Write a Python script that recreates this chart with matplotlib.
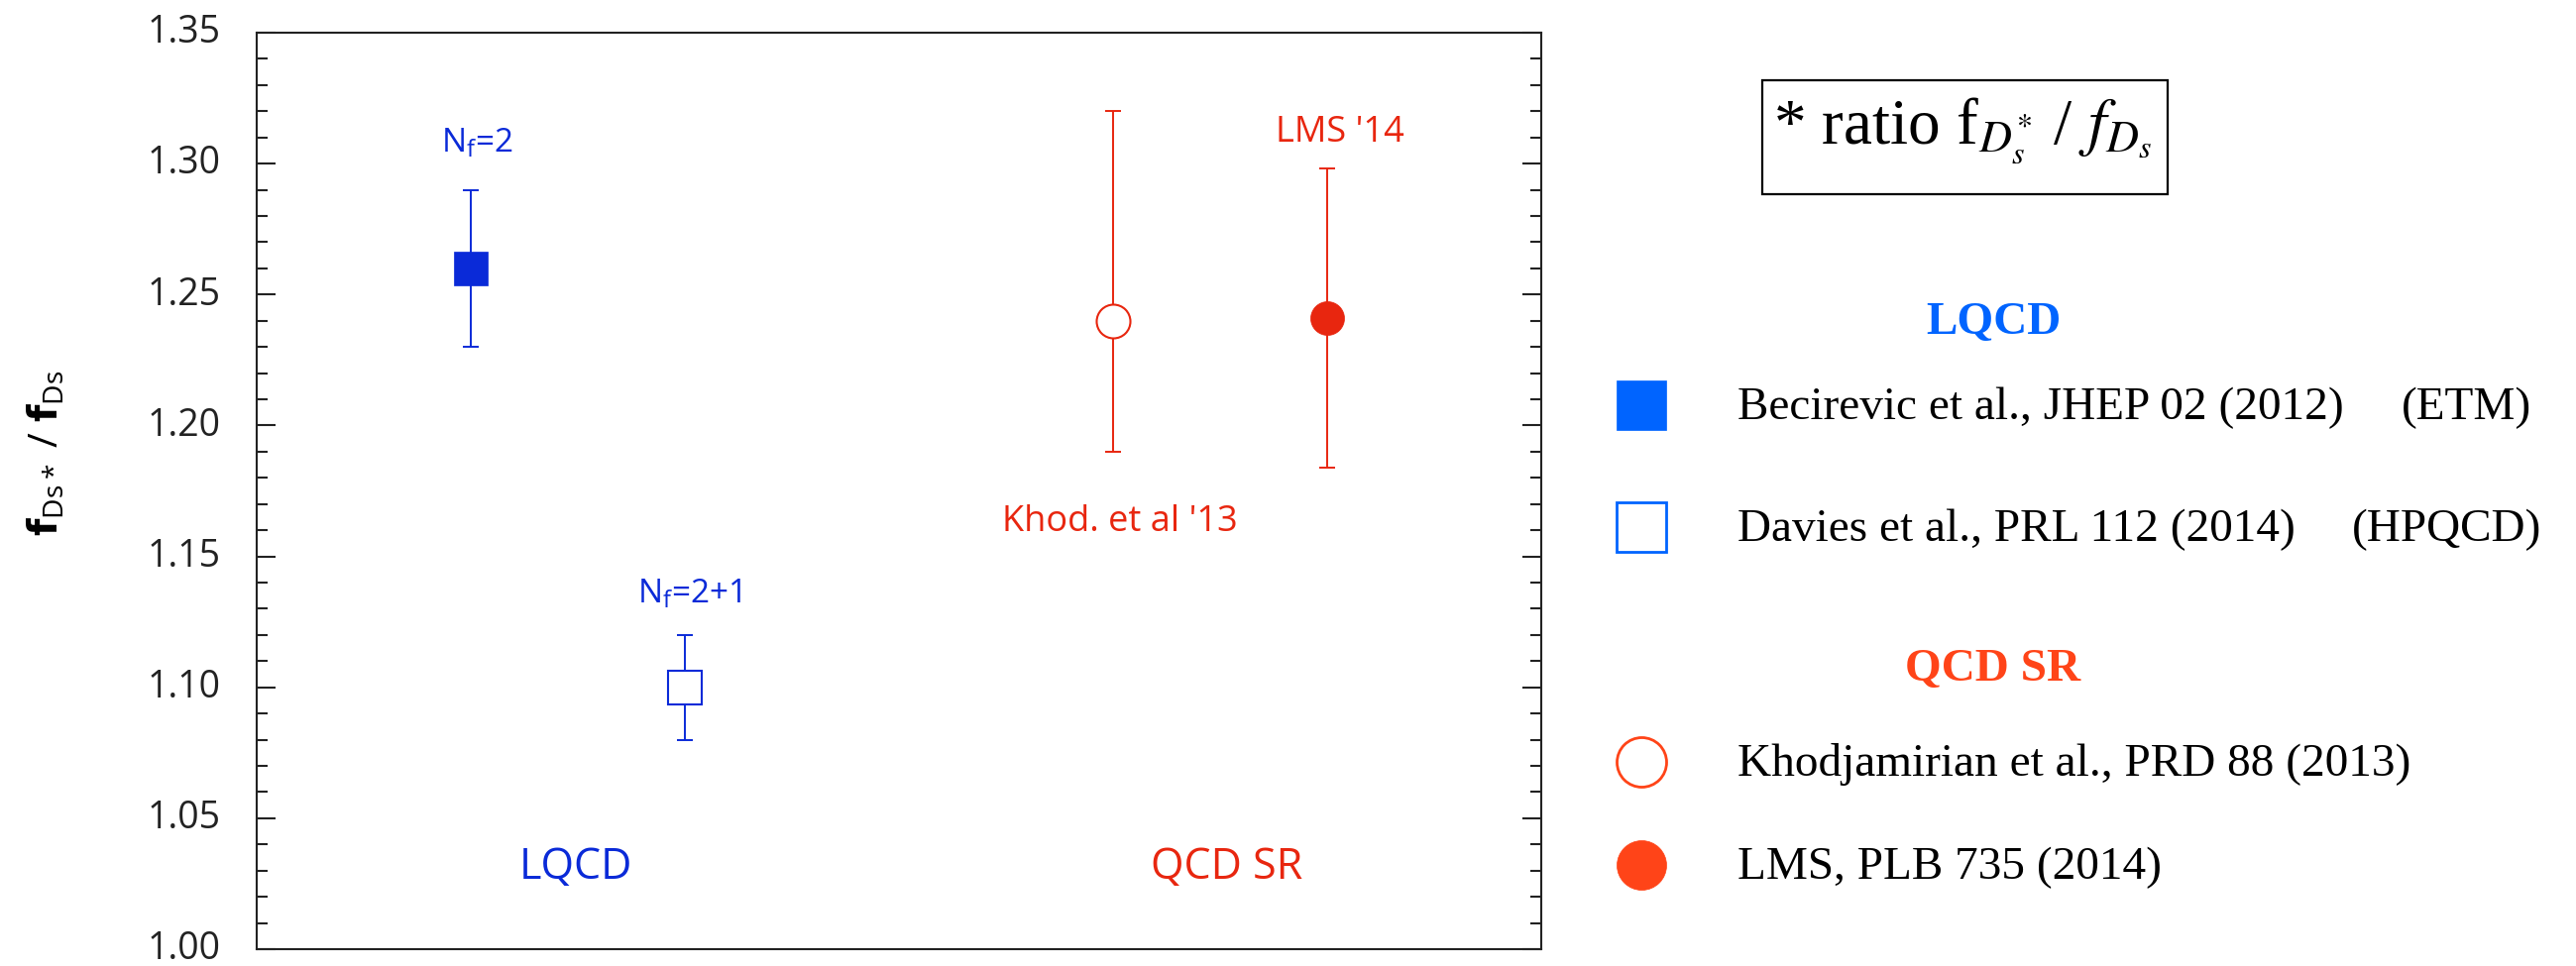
import matplotlib
matplotlib.use("Agg")
import matplotlib.pyplot as plt
import matplotlib.transforms as mtransforms
from matplotlib.patches import Rectangle
from matplotlib.ticker import MultipleLocator, FormatStrFormatter

# ---------------- data ----------------
results = ["Becirevic et al., JHEP 02 (2012)", "Davies et al., PRL 112 (2014)",
           "Khodjamirian et al., PRD 88 (2013)", "LMS, PLB 735 (2014)"]
collaborations = ["(ETM)", "(HPQCD)", "", ""]
x_pos = [1, 2, 4, 5]
ratio = [1.26, 1.10, 1.24, 1.241]
err_lo = [0.03, 0.02, 0.05, 0.057]
err_hi = [0.03, 0.02, 0.08, 0.057]
point_tags = [r"N$_{\mathregular{f}}$=2", r"N$_{\mathregular{f}}$=2+1",
              "Khod. et al '13", "LMS '14"]
groups = ["LQCD", "QCD SR"]
y_ticks = [1.00, 1.05, 1.10, 1.15, 1.20, 1.25, 1.30, 1.35]

# ---------------- styles ----------------
plot_blue, plot_red = "#0a2ad8", "#e8260f"
key_blue, key_red = "#0064ff", "#ff4418"
markers = ["s", "s", "o", "o"]
filled = [True, False, False, True]
plot_colors = [plot_blue, plot_blue, plot_red, plot_red]
key_colors = [key_blue, key_blue, key_red, key_red]
group_plot_colors = [plot_blue, plot_red]
group_key_colors = [key_blue, key_red]

sans = "Open Sans"
serif = "Liberation Serif"

W, H = 2599, 975
fig = plt.figure(figsize=(W / 100, H / 100), dpi=100)
fig.patch.set_facecolor("white")

# main panel
ax = fig.add_axes([259 / W, 1 - 958 / H, (1555 - 259) / W, (958 - 33) / H])
ax.set_xlim(0, 6)
ax.set_ylim(y_ticks[0], y_ticks[-1])

for x, y, lo, hi, m, f, c in zip(x_pos, ratio, err_lo, err_hi, markers, filled, plot_colors):
    ax.errorbar([x], [y], yerr=[[lo], [hi]], fmt="none", ecolor=c,
                elinewidth=1.4, capsize=6, capthick=1.4, zorder=2)
    ax.plot([x], [y], marker=m, ms=24.5, mfc=c if f else "white", mec=c,
            mew=1.5 if not f else 0.5, ls="none", zorder=3)

# labels next to the points
tag_x = [1.03, 2.02, 4.03, 5.06]
tag_y = [1.3046, 1.1324, 1.1597, 1.3084]
tag_size = [24, 24, 26, 26]
for t, tx, ty, s, c in zip(point_tags, tag_x, tag_y, tag_size, plot_colors):
    ax.text(tx, ty, t, ha="center", va="baseline", fontsize=s, color=c,
            family=sans, math_fontfamily="dejavusans")

# group names inside the panel
group_x = [1.49, 4.53]
for g, gx, c in zip(groups, group_x, group_plot_colors):
    ax.text(gx, 1.027, g, ha="center", va="baseline", fontsize=31, color=c, family=sans)

ax.set_yticks(y_ticks)
ax.yaxis.set_minor_locator(MultipleLocator(0.01))
ax.yaxis.set_major_formatter(FormatStrFormatter("%.2f"))
ax.tick_params(axis="y", which="both", direction="in", left=True, right=True,
               width=1.5, color="#222222", labelsize=27, pad=26, labelcolor="#222222")
ax.tick_params(axis="y", which="major", length=13.5)
ax.tick_params(axis="y", which="minor", length=8)
ax.tick_params(axis="x", which="both", bottom=False, top=False, labelbottom=False)
lift = mtransforms.ScaledTranslation(0, 3 / 72, fig.dpi_scale_trans)
for lab in ax.get_yticklabels():
    lab.set_family(sans)
    lab.set_transform(lab.get_transform() + lift)
for sp in ax.spines.values():
    sp.set_linewidth(1.5)
    sp.set_color("#222222")

fig.text(48 / W, 1 - 457 / H,
         r"$\mathbf{f}_{\mathregular{Ds*}}$ / $\mathbf{f}_{\mathregular{Ds}}$",
         rotation=90, ha="center", va="center", fontsize=29, family=sans,
         math_fontfamily="dejavusans", color="black")

# ---------------- key on the right ----------------
key = fig.add_axes([0, 0, 1, 1])
key.set_xlim(0, W)
key.set_ylim(H, 0)
key.axis("off")
key.patch.set_visible(False)

# boxed title
key.add_patch(Rectangle((1778, 81), 409, 115, fill=False, lw=1.6, ec="black"))
key.text(1980, 145, r"* ratio f$_{D_s^{*}}$ / $f_{D_s}$", ha="center", va="baseline",
         fontsize=47, family=serif, math_fontfamily="stix", color="black")

marker_x, text_x, header_x = 1656, 1753, 2011
header_base = [337, 687]
row_center = [409, 532, 769, 873]
collab_x = [2423, 2373]

for g, yb, c in zip(groups, header_base, group_key_colors):
    key.text(header_x, yb, g, ha="center", va="baseline", fontsize=34,
             fontweight="bold", family=serif, color=c)

for i, (lab, m, f, c, yc) in enumerate(zip(results, markers, filled, key_colors, row_center)):
    key.plot([marker_x], [yc], marker=m, ms=36, mfc=c if f else "white", mec=c,
             mew=2.0 if not f else 0.5, ls="none")
    key.text(text_x, yc + 14, lab, ha="left", va="baseline", fontsize=34,
             family=serif, color="black")
    if collaborations[i]:
        key.text(collab_x[i], yc + 14, collaborations[i], ha="left", va="baseline",
                 fontsize=34, family=serif, color="black")

fig.savefig("out.png", dpi=100, facecolor="white")
